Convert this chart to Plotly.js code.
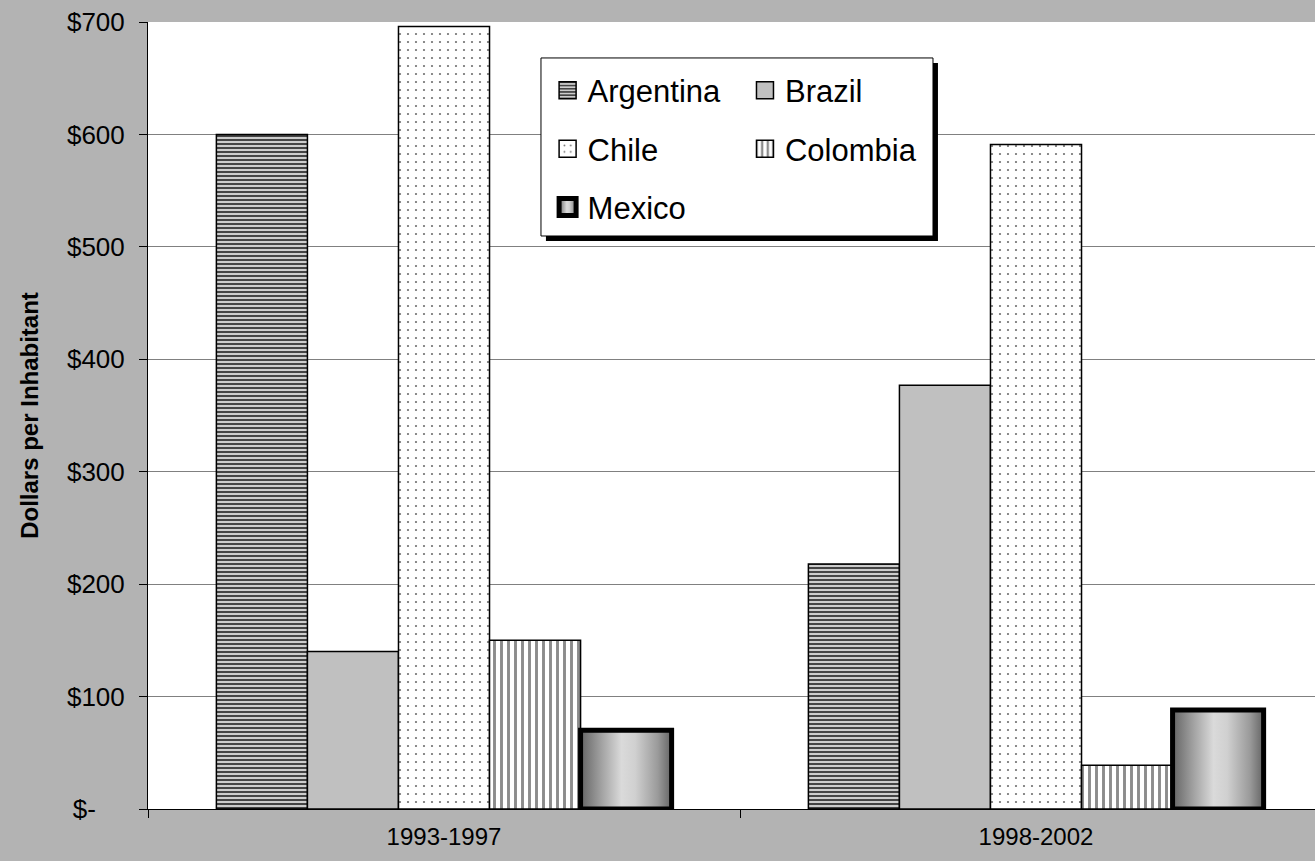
<!DOCTYPE html>
<html>
<head>
<meta charset="utf-8">
<script src="https://cdn.plot.ly/plotly-3.0.1.min.js"></script>
<style>
  html, body { margin: 0; padding: 0; background: #b3b3b3; overflow: hidden; }
  #wrap { width: 1315px; height: 861px; overflow: hidden; }
  #chart { width: 1332px; height: 861px; }
</style>
</head>
<body>
<div id="wrap"><div id="chart"></div></div>
<script>
// ---- data ----
const periods = ["1993-1997", "1998-2002"];
const argentina = [600, 218];
const brazil = [140, 377];
const chile = [696, 591];
const colombia = [150, 39];
const mexico = [70, 88];
const yTickVals = [0, 100, 200, 300, 400, 500, 600, 700];
const yTickText = ["$-\u00a0\u00a0\u00a0\u00a0", "$100", "$200", "$300", "$400", "$500", "$600", "$700"];

const FONT = "Liberation Sans, Arial, sans-serif";
const outline = { color: "#000000", width: 1.5 };

const traces = [
  {
    type: "bar", name: "Argentina", x: periods, y: argentina,
    legend: "legend", legendgroup: "a",
    marker: {
      color: "#4d4d4d", line: outline,
      pattern: { shape: "-", fgcolor: "#444444", bgcolor: "#cccccc", size: 4, solidity: 0.5, fillmode: "replace" }
    }
  },
  {
    type: "bar", name: "Brazil", x: periods, y: brazil,
    legend: "legend2", legendgroup: "b",
    marker: { color: "#c0c0c0", line: outline }
  },
  {
    type: "bar", name: "Chile", x: periods, y: chile,
    legend: "legend", legendgroup: "c",
    marker: {
      color: "#666666", line: outline,
      pattern: { shape: ".", fgcolor: "#707070", bgcolor: "#ffffff", size: 8, solidity: 0.06, fillmode: "replace" }
    }
  },
  {
    type: "bar", name: "Colombia", x: periods, y: colombia,
    legend: "legend2", legendgroup: "d",
    marker: {
      color: "#8c8c8c", line: outline,
      pattern: { shape: "|", fgcolor: "#8c8c8c", bgcolor: "#ffffff", size: 7, solidity: 0.42, fillmode: "replace" }
    }
  },
  {
    type: "bar", name: "Mexico", x: periods, y: mexico,
    legend: "legend", legendgroup: "e",
    marker: { color: "#b0b0b0", line: { color: "#000000", width: 5 } }
  }
];

const legendCommon = {
  font: { family: FONT, size: 31, color: "#000000" },
  bgcolor: "rgba(0,0,0,0)", borderwidth: 0,
  xanchor: "left", yanchor: "top", tracegroupgap: 15,
  orientation: "v", traceorder: "grouped"
};

const layout = {
  width: 1332, height: 861,
  paper_bgcolor: "#b3b3b3",
  plot_bgcolor: "#ffffff",
  margin: { l: 148, r: 0, t: 22, b: 52, pad: 0 },
  barmode: "group",
  bargap: 0.231,
  bargroupgap: 0,
  font: { family: FONT, size: 24, color: "#000000" },
  xaxis: {
    type: "category",
    tickson: "boundaries",
    ticks: "outside", ticklen: 8, tickcolor: "#000000", tickwidth: 1,
    showline: true, linecolor: "#000000", linewidth: 1,
    showgrid: false, zeroline: false,
    tickfont: { family: FONT, size: 24, color: "#000000" },
    ticklabelstandoff: 6
  },
  yaxis: {
    range: [0, 700],
    tickvals: yTickVals, ticktext: yTickText,
    ticks: "outside", ticklen: 8, tickcolor: "#000000", tickwidth: 1,
    showline: true, linecolor: "#000000", linewidth: 1,
    showgrid: true, gridcolor: "#808080", gridwidth: 1,
    zeroline: false,
    tickfont: { family: FONT, size: 26, color: "#000000" },
    ticklabelstandoff: 9,
    title: { text: "Dollars per Inhabitant", font: { family: FONT, size: 24, color: "#000000", weight: "bold" }, standoff: 21 }
  },
  legend: Object.assign({}, legendCommon, { x: 0.3375, y: 0.947 }),
  legend2: Object.assign({}, legendCommon, { x: 0.5042, y: 0.947 }),
  shapes: [
    { type: "rect", xref: "paper", yref: "paper", x0: 0.3361, x1: 0.6672, y0: 0.7217, y1: 0.9479,
      fillcolor: "#000000", line: { width: 0 }, layer: "above" },
    { type: "rect", xref: "paper", yref: "paper", x0: 0.3319, x1: 0.6630, y0: 0.7281, y1: 0.9543,
      fillcolor: "#ffffff", line: { color: "#000000", width: 1 }, layer: "above" }
  ],
  showlegend: true
};

function applyGradient(gd) {
  const svgNS = "http://www.w3.org/2000/svg";
  const defs = gd.querySelector(".main-svg defs");
  if (defs && !defs.querySelector("#mexgrad")) {
    const g = document.createElementNS(svgNS, "linearGradient");
    g.setAttribute("id", "mexgrad");
    g.setAttribute("x1", "0"); g.setAttribute("y1", "0");
    g.setAttribute("x2", "1"); g.setAttribute("y2", "0");
    const stops = [[0, "#646464"], [0.2, "#9a9a9a"], [0.45, "#dadada"], [0.6, "#d0d0d0"], [0.85, "#9a9a9a"], [1, "#646464"]];
    stops.forEach(s => {
      const st = document.createElementNS(svgNS, "stop");
      st.setAttribute("offset", s[0]);
      st.setAttribute("stop-color", s[1]);
      g.appendChild(st);
    });
    defs.appendChild(g);
  }
  gd.querySelectorAll(".barlayer .trace.bars").forEach(t => {
    const d = t.__data__;
    const tr = d && d[0] && d[0].trace;
    if (tr && tr.name === "Mexico") {
      t.querySelectorAll("path").forEach(p => { p.style.fill = "url(#mexgrad)"; });
    }
  });
  gd.querySelectorAll(".legendpoints").forEach(lp => {
    const traceG = lp.closest(".traces");
    const txt = traceG ? traceG.querySelector(".legendtext") : null;
    lp.querySelectorAll("path").forEach(p => {
      p.setAttribute("d", "M8.5,8.5H-8.5V-8.5H8.5Z");
      if (txt && txt.textContent === "Mexico") p.style.fill = "url(#mexgrad)";
    });
  });
}

Plotly.newPlot("chart", traces, layout, { displayModeBar: false, staticPlot: true })
  .then(gd => {
    applyGradient(gd);
    requestAnimationFrame(() => applyGradient(gd));
  });
</script>
</body>
</html>
